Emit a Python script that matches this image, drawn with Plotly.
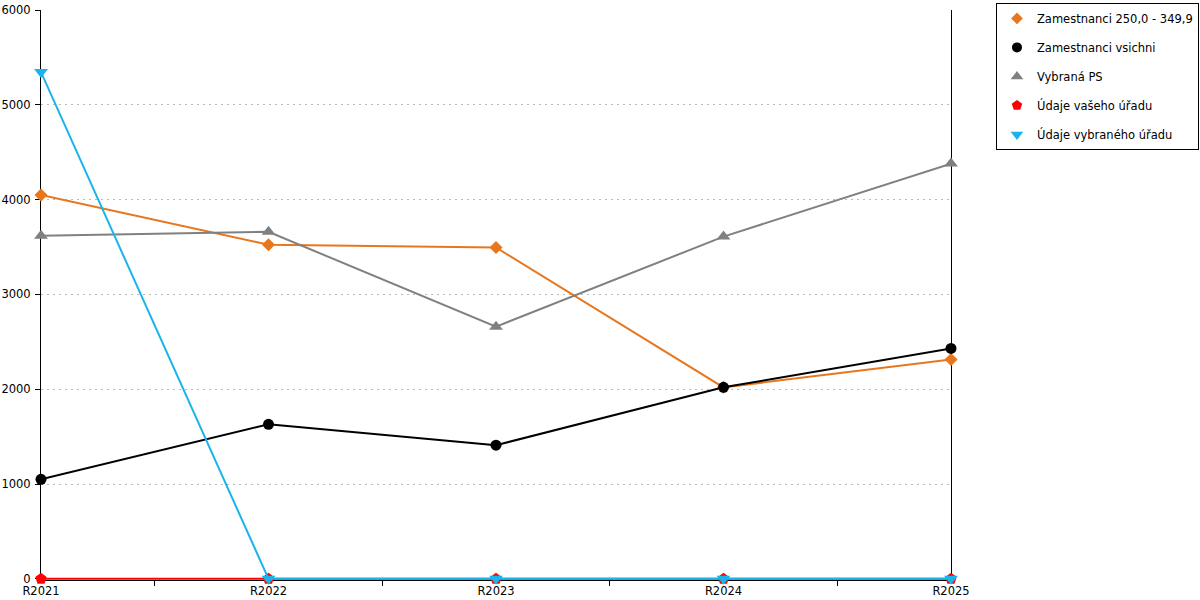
import plotly.graph_objects as go

# Categories and series values
years = ["R2021", "R2022", "R2023", "R2024", "R2025"]
zam_250 = [4050, 3525, 3495, 2020, 2315]
zam_all = [1050, 1630, 1410, 2020, 2430]
vybrana_ps = [3620, 3660, 2660, 3610, 4380]
vas_urad = [0, 0, 0, 0, 0]
vybrany_urad = [5345, 0, 0, 0, 0]

series = [
    ("Zamestnanci 250,0 - 349,9", zam_250, "#E8761C", "diamond", 10),
    ("Zamestnanci vsichni", zam_all, "#000000", "circle", 11),
    ("Vybraná PS", vybrana_ps, "#808080", "triangle-up", 12),
    ("Údaje vašeho úřadu", vas_urad, "#FF0000", "pentagon", 12),
    ("Údaje vybraného úřadu", vybrany_urad, "#1BB4EA", "triangle-down", 12),
]

fig = go.Figure()

for i, (name, vals, color, symbol, size) in enumerate(series):
    fig.add_trace(go.Scatter(
        x=years,
        y=vals,
        name=name,
        mode="lines+markers",
        line=dict(color=color, width=2),
        marker=dict(symbol=symbol, size=size, color=color),
        showlegend=False,
        cliponaxis=False
    ))

# legend entries show the marker only
for i, (name, vals, color, symbol, size) in enumerate(series):
    fig.add_trace(go.Scatter(
        x=[None],
        y=[None],
        name=name,
        mode="markers",
        marker=dict(symbol=symbol, size=size - 1, color=color),
        legendgroup=str(i)
    ))

fig.update_layout(
    width=1200,
    height=600,
    margin=dict(l=41, r=249, t=10, b=20, autoexpand=False),
    plot_bgcolor="white",
    paper_bgcolor="white",
    font=dict(family="DejaVu Sans", size=11.5, color="#000000"),
    showlegend=True,
    legend=dict(
        x=1.2725, y=1.0125, xanchor="right", yanchor="top",
        bordercolor="#000000", borderwidth=1, bgcolor="white",
        traceorder="grouped", tracegroupgap=10,
        font=dict(size=11.5)
    ),
    xaxis=dict(
        type="category",
        range=[0, 4],
        showgrid=False,
        showline=True, linecolor="#000000", linewidth=1,
        ticks="outside", ticklen=5, tickcolor="#000000",
        tickson="boundaries",
        zeroline=False,
        layer="below traces",
        automargin=False,
        tickfont=dict(size=11.5)
    ),
    yaxis=dict(
        range=[-12, 6000],
        tickvals=[0, 1000, 2000, 3000, 4000, 5000, 6000],
        showgrid=True, gridcolor="#BBBBBB", griddash="2px,4px", gridwidth=1,
        showline=True, linecolor="#000000", linewidth=1, mirror=True,
        ticks="outside", ticklen=5, tickcolor="#000000", ticklabelstandoff=2,
        zeroline=False,
        layer="below traces",
        automargin=False,
        tickfont=dict(size=11.5)
    )
)

# drop the default page margin so the figure sits at the window's corner
fig.write_html(
    "out.html",
    config={"displayModeBar": False},
    post_script="document.body.style.margin='0';"
)
